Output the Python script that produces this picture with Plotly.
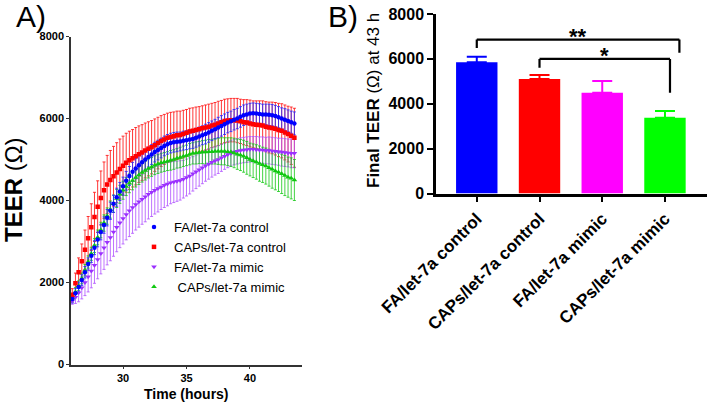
import plotly.graph_objects as go

# ---- Panel A: TEER time course (mean +/- error) ----
hours = [26.0, 26.25, 26.5, 26.75, 27.0, 27.25, 27.5, 27.75,
         28.0, 28.25, 28.5, 28.75, 29.0, 29.25, 29.5, 29.75,
         30.0, 30.25, 30.5, 30.75, 31.0, 31.25, 31.5, 31.75,
         32.0, 32.25, 32.5, 32.75, 33.0, 33.25, 33.5, 33.75,
         34.0, 34.25, 34.5, 34.75, 35.0, 35.25, 35.5, 35.75,
         36.0, 36.25, 36.5, 36.75, 37.0, 37.25, 37.5, 37.75,
         38.0, 38.25, 38.5, 38.75, 39.0, 39.25, 39.5, 39.75,
         40.0, 40.25, 40.5, 40.75, 41.0, 41.25, 41.5, 41.75,
         42.0, 42.25, 42.5, 42.75, 43.0, 43.25, 43.5]

fa_control = [1600, 1740, 1890, 2060, 2250, 2450, 2650, 2850,
              3050, 3230, 3400, 3580, 3750, 3920, 4080, 4220,
              4350, 4480, 4600, 4700, 4780, 4860, 4930, 5000,
              5060, 5120, 5180, 5230, 5280, 5330, 5370, 5400,
              5420, 5430, 5440, 5460, 5470, 5490, 5500, 5530,
              5560, 5590, 5620, 5660, 5700, 5740, 5780, 5820,
              5860, 5900, 5930, 5970, 6000, 6040, 6080, 6100,
              6120, 6130, 6120, 6110, 6100, 6100, 6090, 6080,
              6060, 6030, 6000, 5970, 5940, 5910, 5880]
fa_control_err = [100, 110, 120, 130, 140, 150, 160, 170,
                  180, 190, 200, 200, 210, 210, 220, 220,
                  220, 230, 230, 230, 240, 240, 240, 240,
                  240, 240, 240, 240, 240, 240, 240, 240,
                  240, 240, 230, 230, 230, 230, 230, 230,
                  230, 230, 240, 240, 240, 240, 250, 250,
                  250, 250, 250, 250, 250, 250, 250, 250,
                  250, 250, 250, 250, 250, 250, 260, 260,
                  260, 260, 260, 270, 270, 270, 280]

caps_control = [1700, 1980, 2250, 2520, 2800, 3080, 3350, 3600,
                3850, 4060, 4250, 4390, 4500, 4590, 4680, 4770,
                4850, 4920, 4980, 5030, 5080, 5130, 5170, 5220,
                5260, 5300, 5350, 5400, 5450, 5490, 5530, 5550,
                5570, 5590, 5600, 5620, 5650, 5680, 5700, 5720,
                5740, 5760, 5780, 5800, 5830, 5850, 5880, 5910,
                5940, 5950, 5960, 5960, 5950, 5930, 5910, 5900,
                5880, 5860, 5850, 5840, 5830, 5800, 5780, 5770,
                5750, 5720, 5700, 5660, 5620, 5580, 5530]
caps_control_err = [150, 250, 350, 420, 480, 530, 570, 600,
                    630, 660, 690, 710, 720, 730, 730, 730,
                    720, 720, 710, 700, 700, 690, 680, 670,
                    660, 650, 640, 630, 620, 610, 600, 600,
                    590, 590, 580, 580, 570, 570, 560, 560,
                    550, 550, 550, 550, 540, 540, 540, 530,
                    530, 530, 530, 530, 540, 540, 550, 560,
                    570, 570, 580, 590, 600, 610, 620, 630,
                    640, 650, 660, 670, 680, 700, 720]

fa_mimic = [1550, 1640, 1750, 1870, 2000, 2140, 2280, 2420,
            2560, 2710, 2850, 2980, 3100, 3230, 3350, 3460,
            3560, 3660, 3750, 3830, 3900, 3970, 4030, 4090,
            4150, 4200, 4250, 4290, 4330, 4370, 4400, 4430,
            4450, 4470, 4490, 4520, 4560, 4600, 4650, 4700,
            4750, 4800, 4850, 4890, 4930, 4970, 5000, 5040,
            5080, 5120, 5150, 5180, 5200, 5220, 5230, 5240,
            5250, 5250, 5240, 5230, 5230, 5220, 5220, 5210,
            5200, 5190, 5180, 5170, 5160, 5150, 5150]
fa_mimic_err = [80, 150, 220, 270, 320, 370, 410, 440,
                470, 500, 530, 550, 570, 590, 600, 610,
                620, 620, 630, 630, 620, 620, 610, 610,
                600, 590, 580, 570, 550, 540, 530, 510,
                500, 490, 480, 460, 450, 440, 420, 410,
                400, 390, 380, 370, 360, 350, 340, 330,
                320, 320, 310, 310, 310, 310, 310, 310,
                310, 310, 320, 320, 320, 320, 330, 330,
                330, 330, 340, 340, 340, 350, 350]

caps_mimic = [1620, 1770, 1920, 2100, 2300, 2500, 2700, 2900,
              3100, 3280, 3450, 3620, 3780, 3920, 4050, 4150,
              4250, 4340, 4420, 4490, 4560, 4620, 4680, 4730,
              4780, 4820, 4860, 4890, 4920, 4940, 4960, 4980,
              5000, 5030, 5050, 5080, 5100, 5130, 5150, 5160,
              5170, 5180, 5180, 5190, 5190, 5200, 5200, 5200,
              5200, 5190, 5180, 5160, 5130, 5110, 5080, 5040,
              5000, 4970, 4940, 4900, 4870, 4840, 4800, 4760,
              4720, 4690, 4650, 4610, 4570, 4540, 4500]
caps_mimic_err = [100, 110, 120, 130, 140, 150, 160, 170,
                  180, 190, 200, 200, 210, 210, 220, 220,
                  220, 220, 230, 230, 230, 230, 230, 230,
                  230, 230, 230, 230, 230, 230, 230, 240,
                  240, 240, 250, 250, 250, 260, 260, 270,
                  270, 280, 290, 300, 300, 310, 320, 330,
                  330, 340, 350, 360, 370, 380, 390, 400,
                  400, 410, 420, 430, 430, 440, 450, 460,
                  460, 470, 480, 490, 490, 500, 500]

# ---- Panel B: final TEER at 43 h ----
groups = ['FA/let-7a control', 'CAPs/let-7a control',
          'FA/let-7a mimic', 'CAPs/let-7a mimic']
final_teer = [5850, 5100, 4490, 3380]
final_err = [240, 180, 520, 300]

FONT = 'Arial, Liberation Sans, sans-serif'
W, H = 709, 403

series = {
    'FA/let-7a control': dict(y=fa_control, err=fa_control_err, color='#0000ff',
                              bar='rgba(40,40,255,0.85)', symbol='circle', size=4.5, rank=1),
    'CAPs/let-7a control': dict(y=caps_control, err=caps_control_err, color='#ff0000',
                                bar='rgba(255,20,20,0.85)', symbol='square', size=4.5, rank=2),
    'FA/let-7a mimic': dict(y=fa_mimic, err=fa_mimic_err, color='#9b30ff',
                            bar='rgba(175,80,255,0.8)', symbol='triangle-down', size=5, rank=3),
    ' CAPs/let-7a mimic': dict(y=caps_mimic, err=caps_mimic_err, color='#10c810',
                               bar='rgba(20,200,20,0.8)', symbol='triangle-up', size=5, rank=4),
}

fig = go.Figure()

# error bands first, so every mean line sits on top of them
for name in ['CAPs/let-7a control', 'FA/let-7a mimic', ' CAPs/let-7a mimic', 'FA/let-7a control']:
    s = series[name]
    fig.add_trace(go.Scatter(
        x=hours, y=s['y'], mode='markers',
        marker=dict(size=1, opacity=0),
        error_y=dict(type='data', array=s['err'], color=s['bar'],
                     thickness=1, width=1.5),
        showlegend=False, hoverinfo='skip', xaxis='x', yaxis='y',
    ))

for name in ['FA/let-7a mimic', ' CAPs/let-7a mimic', 'CAPs/let-7a control', 'FA/let-7a control']:
    s = series[name]
    fig.add_trace(go.Scatter(
        x=hours, y=s['y'], mode='markers', name=name,
        marker=dict(symbol=s['symbol'], size=s['size'], color=s['color'],
                    line=dict(width=0)),
        legendrank=s['rank'], xaxis='x', yaxis='y',
    ))

# bars, one trace per group so each error cap keeps the bar's colour
bar_colors = ['#0000ff', '#ff0000', '#ff00ff', '#00ff00']
for g, v, e, c in zip(groups, final_teer, final_err, bar_colors):
    fig.add_trace(go.Bar(
        x=[g], y=[v], width=0.66, marker=dict(color=c, line=dict(width=0)),
        error_y=dict(type='data', array=[e], arrayminus=[0], symmetric=False,
                     color=c, thickness=2, width=10),
        showlegend=False, xaxis='x2', yaxis='y2',
    ))

# significance brackets
brackets = [(0, 3.23, 6860, 6490, 6270, '**', 7000),
            (1, 3.08, 6000, 5600, 4490, '*', 6130)]
shapes = []
for x0, x1, top, left_end, right_end, label, ly in brackets:
    for sx0, sy0, sx1, sy1 in [(x0, left_end, x0, top), (x0, top, x1, top), (x1, top, x1, right_end)]:
        shapes.append(dict(type='line', xref='x2', yref='y2', x0=sx0, y0=sy0, x1=sx1, y1=sy1,
                           line=dict(color='black', width=2.2)))


def note(text, px, py, size, angle=0):
    return dict(text=text, x=px / W, y=1 - py / H, xref='paper', yref='paper',
                xanchor='center', yanchor='middle', textangle=angle, showarrow=False,
                font=dict(family=FONT, size=size, color='black'))


annotations = [
    note('A)', 31, 17, 30),
    note('B)', 343, 17, 30),
    note('<b>TEER</b> (Ω)', 13, 190, 24, -90),
    note('<b>Time (hours)</b>', 187, 394, 14),
    note('<b>Final TEER</b> (Ω) at 43 h', 373, 100, 17, -90),
]
for x0, x1, top, left_end, right_end, label, ly in brackets:
    annotations.append(dict(text='<b>%s</b>' % label, x=(x0 + x1) / 2, y=ly,
                            xref='x2', yref='y2', showarrow=False,
                            xanchor='center', yanchor='middle',
                            font=dict(family=FONT, size=22, color='black')))

axis_common = dict(showgrid=False, zeroline=False, showline=True, automargin=False,
                   ticks='outside')

fig.update_layout(
    template='none',
    width=W, height=H,
    margin=dict(l=0, r=0, t=0, b=0, autoexpand=False),
    paper_bgcolor='white', plot_bgcolor='white',
    font=dict(family=FONT, color='black'),
    showlegend=True,
    legend=dict(x=134 / W, y=1 - 212 / H, xanchor='left', yanchor='top',
                font=dict(family=FONT, size=13, color='black'),
                bgcolor='rgba(0,0,0,0)', borderwidth=0, tracegroupgap=0),
    xaxis=dict(domain=[71 / W, 302 / W], range=[25.9, 44.1],
               tickvals=[30, 35, 40], linecolor='#333', linewidth=1.5,
               ticklen=3, tickcolor='#333',
               tickfont=dict(family=FONT, size=11, weight='bold'),
               anchor='y', **axis_common),
    yaxis=dict(domain=[1 - 364.5 / H, 1 - 36.5 / H], range=[0, 8000],
               tickvals=[0, 2000, 4000, 6000, 8000], linecolor='#333', linewidth=1.5,
               ticklen=3, tickcolor='#333',
               tickfont=dict(family=FONT, size=11, weight='bold'),
               anchor='x', **axis_common),
    xaxis2=dict(domain=[436 / W, 707 / W], range=[-0.65, 3.67],
                type='category', tickangle=-45,
                linecolor='black', linewidth=2.5,
                ticklen=6, tickwidth=2, tickcolor='black',
                tickfont=dict(family=FONT, size=17, weight='bold'),
                anchor='y2', **axis_common),
    yaxis2=dict(domain=[1 - 193.5 / H, 1 - 14 / H], range=[0, 8000],
                tickvals=[0, 2000, 4000, 6000, 8000],
                linecolor='black', linewidth=2.5,
                ticklen=6, tickwidth=2, tickcolor='black',
                tickfont=dict(family=FONT, size=16, weight='bold'),
                anchor='x2', **axis_common),
    barmode='overlay',
    shapes=shapes,
    annotations=annotations,
)

# drop the browser's default 8px body margin so the figure sits at the page corner
fig.write_html('out.html', config={'displayModeBar': False},
               post_script="document.body.style.margin='0';document.body.style.overflow='hidden';")
